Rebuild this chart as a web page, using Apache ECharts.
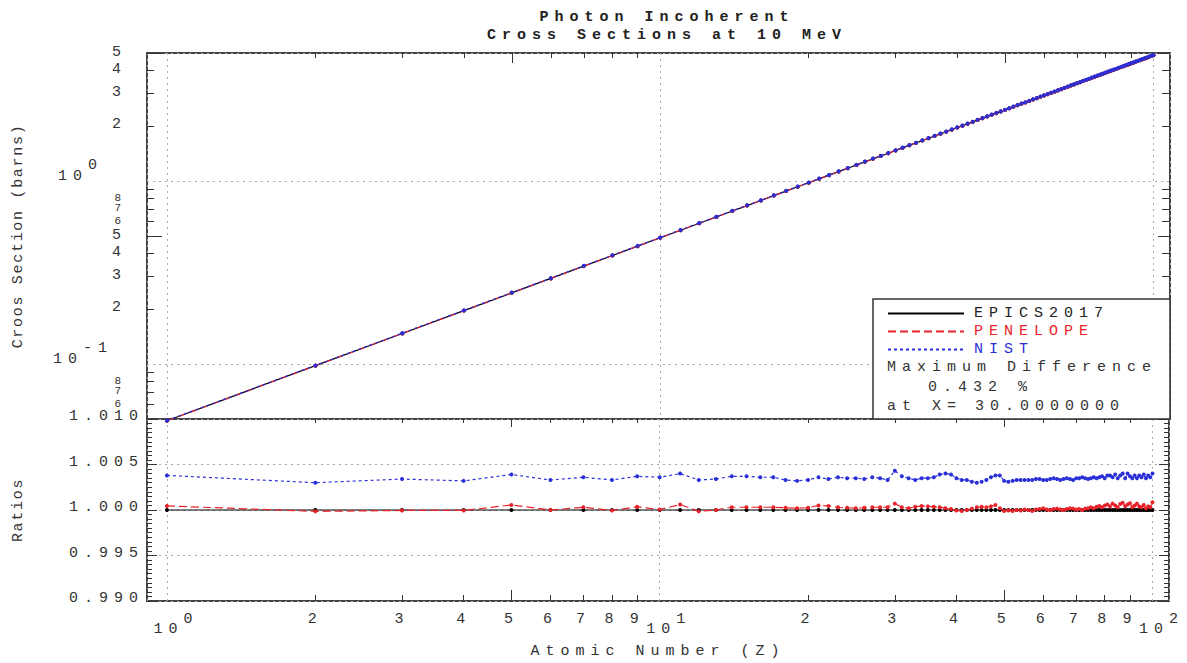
<!DOCTYPE html>
<html>
<head>
<meta charset="utf-8">
<script src="https://cdn.jsdelivr.net/npm/echarts@6/dist/echarts.min.js"></script>
<style>
html, body { margin: 0; padding: 0; background: #fff; }
#chart { width: 1187px; height: 663px; }
#chart svg text { letter-spacing: 6px; }
#chart svg text[transform^="matrix(0,-1"] { letter-spacing: 1.7px; }
</style>
</head>
<body>
<div id="chart"></div>
<script>
// ---------------- data ----------------
const Z = [1,2,3,4,5,6,7,8,9,10,11,12,13,14,15,16,17,18,19,20,
  21,22,23,24,25,26,27,28,29,30,31,32,33,34,35,36,37,38,39,40,
  41,42,43,44,45,46,47,48,49,50,51,52,53,54,55,56,57,58,59,60,
  61,62,63,64,65,66,67,68,69,70,71,72,73,74,75,76,77,78,79,80,
  81,82,83,84,85,86,87,88,89,90,91,92,93,94,95,96,97,98,99,100];

// EPICS2017 incoherent cross section (barns)
const epicsXS = [0.0489,0.0978,0.1467,0.1955,0.2444,0.2933,0.3422,0.3911,0.4400,0.4889,
  0.5377,0.5866,0.6355,0.6844,0.7332,0.7821,0.8310,0.8799,0.9287,0.9776,
  1.026,1.075,1.124,1.173,1.222,1.271,1.320,1.368,1.417,1.466,
  1.515,1.564,1.613,1.662,1.710,1.759,1.808,1.857,1.906,1.955,
  2.003,2.052,2.101,2.150,2.198,2.247,2.296,2.345,2.393,2.442,
  2.491,2.539,2.588,2.637,2.685,2.734,2.783,2.831,2.880,2.928,
  2.977,3.026,3.074,3.123,3.171,3.220,3.268,3.317,3.365,3.414,
  3.462,3.511,3.559,3.607,3.656,3.704,3.753,3.801,3.849,3.897,
  3.946,3.994,4.042,4.090,4.138,4.186,4.235,4.283,4.331,4.379,
  4.427,4.475,4.523,4.571,4.619,4.667,4.715,4.763,4.811,4.859];

// PENELOPE / EPICS2017
const penelopeRatio = [1.00045,0.99985,0.99995,0.99995,1.00055,1.0000,1.0003,0.99995,1.00035,1.00005,
  1.0006,0.99985,1.0000,1.0003,1.0003,1.0003,1.0003,1.00025,1.0002,1.00025,
  1.0005,1.00045,1.0003,1.00025,1.0002,1.00025,1.0003,1.0003,1.0003,1.0007,
  1.0003,1.0002,1.00035,1.00045,1.0004,1.00035,1.0003,1.0002,1.0001,0.99995,
  0.9999,1.0000,1.00015,1.0003,1.00035,1.0003,1.0004,1.00055,1.0002,0.9999,
  0.99995,0.9999,1.0000,0.99995,1.00005,1.0000,0.9999,1.00005,1.0001,1.0002,
  1.00005,1.0000,1.0001,1.00015,1.00005,1.0000,1.0001,1.0002,1.00015,1.00005,
  1.0001,1.0000,1.00015,1.0002,1.0003,1.0002,1.00035,1.00045,1.0003,1.0005,
  1.0006,1.0004,1.0007,1.0005,1.0003,1.00065,1.0008,1.0004,1.0006,1.00075,
  1.0003,1.0005,1.0007,1.0004,1.0003,1.00055,1.0002,1.0004,1.0003,1.00085];

// NIST / EPICS2017
const nistRatio = [1.0038,1.0030,1.0034,1.0032,1.0039,1.0033,1.0036,1.0033,1.0037,1.0036,
  1.0040,1.0033,1.0034,1.0037,1.0037,1.0036,1.0036,1.0033,1.0032,1.0033,
  1.0036,1.0034,1.0036,1.0035,1.0035,1.0034,1.0036,1.0035,1.0033,1.00432,
  1.0037,1.0035,1.0033,1.0035,1.0035,1.0036,1.0039,1.0040,1.0039,1.0035,
  1.0033,1.0033,1.0031,1.0030,1.0031,1.0033,1.0036,1.0038,1.0038,1.0032,
  1.0031,1.0032,1.0033,1.0033,1.0033,1.0033,1.0033,1.0034,1.0034,1.0033,
  1.0033,1.0034,1.0035,1.0034,1.0033,1.0034,1.0035,1.0034,1.0033,1.0035,
  1.0035,1.0036,1.0035,1.0034,1.0035,1.0036,1.0035,1.0036,1.0037,1.0035,
  1.0038,1.0038,1.0036,1.0039,1.0035,1.0038,1.0040,1.0035,1.0040,1.0037,
  1.0035,1.0038,1.0035,1.0038,1.0036,1.0039,1.0035,1.0038,1.0036,1.0040];

// tick / label values
const xDigitLabels = [2,3,4,5,6,7,8,9,20,30,40,50,60,70,80,90];
const xDecadeLabels = [1,10,100];
const xMinorTicks = [2,3,4,6,7,8,9,20,30,40,60,70,80,90];
const xMidTicks = [5,50];
const yLabelsA = [0.06,0.2,0.3,0.4,0.6,0.8,2,3,5];
const yLabelsB = [0.07,0.5,0.7,4];
const yLabelsC = [0.08,0.1,1];
const yTopMinorTicks = [0.06,0.07,0.08,0.09,0.2,0.3,0.4,0.6,0.7,0.8,0.9,2,3,4];
const yTopMidTicks = [0.5,5];
const legendNotes = ['Maximum Difference', '0.432 %', 'at X=', '30.0000000'];

// ---------------- setup ----------------
const FONT = 'Liberation Mono';
const FS = 15;
const LS = 6;           // letter spacing in px (matches CSS)
const TXT = '#333';
const AX = '#333';
const GRID = '#a8a8a8';
const C_EPICS = '#000000', C_PEN = '#e8232a', C_NIST = '#2a2fd8';

if (echarts.setPlatformAPI) {
  const mctx = document.createElement('canvas').getContext('2d');
  echarts.setPlatformAPI({
    measureText: function (text, font) {
      text = text == null ? '' : String(text);
      mctx.font = font || '12px sans-serif';
      const m = mctx.measureText(text);
      return {
        width: m.width + LS * text.length,
        actualBoundingBoxAscent: m.actualBoundingBoxAscent,
        actualBoundingBoxDescent: m.actualBoundingBoxDescent,
        actualBoundingBoxLeft: m.actualBoundingBoxLeft,
        actualBoundingBoxRight: m.actualBoundingBoxRight + LS * text.length
      };
    }
  });
}

function rs(extra) {
  return Object.assign({ fontFamily: FONT, fontSize: FS, color: TXT }, extra || {});
}
function decadeExp(v) {
  const e = Math.round(Math.log10(v));
  const p = Math.pow(10, e);
  return Math.abs(v - p) < 1e-6 * p ? e : null;
}
function mant(v) {
  const e = Math.floor(Math.log10(v) + 1e-9);
  return Math.round(v / Math.pow(10, e));
}

const X_MIN = 0.911, X_MAX = 108;
const xLog = { type: 'log', logBase: 10, min: X_MIN, max: X_MAX };
const yTopLog = { type: 'log', logBase: 10, min: 0.05, max: 5 };
const yRatio = { type: 'value', min: 0.990, max: 1.010, interval: 0.005 };
const gridLine = { show: true, lineStyle: { color: GRID, type: [2, 4], width: 1 } };

function tickAxis(gridIndex, position, base, values, len) {
  return Object.assign({}, base, {
    gridIndex: gridIndex, position: position, show: true,
    axisLine: { show: false, onZero: false },
    axisLabel: { show: false },
    splitLine: { show: false },
    axisTick: { show: true, inside: true, length: len, customValues: values, lineStyle: { color: AX, width: 1 } }
  });
}
function gridAxis(gridIndex, position, base) {
  return Object.assign({}, base, {
    gridIndex: gridIndex, position: position, show: true,
    axisLine: { show: false, onZero: false },
    axisLabel: { show: false },
    axisTick: { show: false },
    splitLine: gridLine
  });
}
function labelAxis(gridIndex, position, base, values, label) {
  return Object.assign({}, base, {
    gridIndex: gridIndex, position: position, show: true,
    axisLine: { show: false, onZero: false },
    axisTick: { show: false },
    splitLine: { show: false },
    axisLabel: Object.assign({ show: true, customValues: values, showMinLabel: true, showMaxLabel: true, hideOverlap: false }, label)
  });
}

// x-axis label formatting (bottom of ratio panel)
const xLabelCfg = {
  margin: 13,
  formatter: function (v) {
    const e = decadeExp(v);
    return e === null ? '{n|' + mant(v) + '}' : '{s|' + e + '}\n{b|10}';
  },
  rich: {
    n: rs({ lineHeight: 10 }),
    s: rs({ lineHeight: 10, padding: [0, 0, 0, 48] }),
    b: rs({ lineHeight: 10, padding: [0, 15, 0, 18] })
  }
};
// y-axis label formatting (cross section panel)
const yLabelCfg = {
  margin: 20, verticalAlign: 'bottom',
  formatter: function (v) {
    const e = decadeExp(v);
    if (e === null) {
      const m = mant(v);
      return (m >= 6 ? '{m|' : '{n|') + m + '}';
    }
    if (e === 0) return '{s0|0}\n{b0|10}';
    return '{s1|' + e + '}\n{b1|10}';
  },
  rich: {
    n: rs({ lineHeight: 2 }),
    m: rs({ lineHeight: 2, fontSize: 11 }),
    s0: rs({ lineHeight: 14, padding: [0, 24, 0, 0] }),
    b0: rs({ lineHeight: 8, padding: [0, 39, 0, 0] }),
    s1: rs({ lineHeight: 14, padding: [0, 14, 0, 0] }),
    b1: rs({ lineHeight: 8, padding: [0, 44, 0, 0] })
  }
};

const epicsTop = Z.map((z, i) => [z, epicsXS[i]]);
const penTop = Z.map((z, i) => [z, epicsXS[i] * penelopeRatio[i]]);
const nistTop = Z.map((z, i) => [z, epicsXS[i] * nistRatio[i]]);
const epicsRat = Z.map((z, i) => [z, epicsXS[i] / epicsXS[i]]);
const penRat = Z.map((z, i) => [z, penelopeRatio[i]]);
const nistRat = Z.map((z, i) => [z, nistRatio[i]]);

function lineSeries(name, data, xi, yi, color, dash, z) {
  return {
    name: name, type: 'line', xAxisIndex: xi, yAxisIndex: yi, data: data,
    symbol: 'circle', symbolSize: 4, showSymbol: true, clip: false, z: z,
    lineStyle: { color: color, width: 1.2, type: dash },
    itemStyle: { color: color },
    emphasis: { disabled: true }
  };
}

const chart = echarts.init(document.getElementById('chart'), null, { renderer: 'svg', width: 1187, height: 663 });

const option = {
  animation: false,
  backgroundColor: '#fff',
  title: {
    text: 'Photon Incoherent\nCross Sections at 10 MeV',
    left: 662, top: 3, textAlign: 'center',
    textStyle: { fontFamily: FONT, fontSize: FS, fontWeight: 'bold', lineHeight: 18, color: '#222' }
  },
  grid: [
    { left: 147, right: 17, top: 53, height: 366, show: true, borderColor: '#444', borderWidth: 2, backgroundColor: 'transparent' },
    { left: 147, right: 17, top: 419, height: 184.5, show: true, borderColor: '#444', borderWidth: 2, backgroundColor: 'transparent' }
  ],
  xAxis: [
    tickAxis(0, 'top', xLog, xMinorTicks, 5),                       // 0
    tickAxis(0, 'top', xLog, xMidTicks, 10),                        // 1
    Object.assign({}, xLog, {                                       // 2 (ratio panel, digits)
      gridIndex: 1, position: 'bottom',
      name: 'Atomic Number (Z)', nameLocation: 'middle', nameGap: 40,
      nameTextStyle: rs(),
      axisLine: { show: false, onZero: false },
      axisTick: { show: true, inside: true, length: 6, customValues: xMinorTicks, lineStyle: { color: AX } },
      splitLine: { show: false },
      axisLabel: Object.assign({ show: true, customValues: xDigitLabels, showMinLabel: true, showMaxLabel: true, hideOverlap: false }, xLabelCfg)
    }),
    tickAxis(1, 'bottom', xLog, xMidTicks, 11),                     // 3
    tickAxis(1, 'top', xLog, xMinorTicks, 4),                       // 4
    tickAxis(1, 'top', xLog, xMidTicks, 8),                         // 5
    gridAxis(0, 'top', xLog),                                       // 6
    gridAxis(1, 'bottom', xLog),                                    // 7
    labelAxis(1, 'bottom', xLog, xDecadeLabels, xLabelCfg)          // 8
  ],
  yAxis: [
    Object.assign({}, yTopLog, {                                    // 0
      gridIndex: 0, position: 'left',
      name: 'Croos Section (barns)', nameLocation: 'middle', nameGap: 118, nameRotate: 90,
      nameTextStyle: rs(),
      axisLine: { show: false },
      axisTick: { show: true, inside: true, length: 7, customValues: yTopMinorTicks, lineStyle: { color: AX } },
      splitLine: { show: false },
      axisLabel: Object.assign({ show: true, customValues: yLabelsA, showMinLabel: true, showMaxLabel: true, hideOverlap: false }, yLabelCfg)
    }),
    tickAxis(0, 'left', yTopLog, yTopMidTicks, 15),                 // 1
    tickAxis(0, 'right', yTopLog, yTopMinorTicks, 8),               // 2
    tickAxis(0, 'right', yTopLog, yTopMidTicks, 12),                // 3
    Object.assign({}, yRatio, {                                     // 4
      gridIndex: 1, position: 'left',
      name: 'Ratios', nameLocation: 'middle', nameGap: 118, nameRotate: 90,
      nameTextStyle: rs(),
      axisLine: { show: false },
      axisTick: { show: true, inside: true, length: 10, lineStyle: { color: AX } },
      minorTick: { show: true, splitNumber: 10, length: 5, lineStyle: { color: AX } },
      splitLine: gridLine,
      axisLabel: {
        show: true, margin: 3, verticalAlign: 'bottom', lineHeight: 5,
        fontFamily: FONT, fontSize: FS, color: TXT,
        formatter: function (v) { return v.toFixed(3); }
      }
    }),
    Object.assign({}, yRatio, {                                     // 5
      gridIndex: 1, position: 'right',
      axisLine: { show: false }, axisLabel: { show: false }, splitLine: { show: false },
      axisTick: { show: true, inside: true, length: 10, lineStyle: { color: AX } },
      minorTick: { show: true, splitNumber: 10, length: 5, lineStyle: { color: AX } }
    }),
    gridAxis(0, 'left', yTopLog),                                   // 6
    labelAxis(0, 'left', yTopLog, yLabelsB, yLabelCfg),             // 7
    labelAxis(0, 'left', yTopLog, yLabelsC, yLabelCfg)              // 8
  ],
  legend: {
    orient: 'vertical', left: 887, top: 303, padding: 0,
    itemWidth: 76, itemHeight: 14, itemGap: -3,
    selectedMode: false,
    itemStyle: { opacity: 0 },
    textStyle: { fontFamily: FONT, fontSize: FS, padding: [0, 0, 0, 5] },
    data: [
      { name: 'EPICS2017', textStyle: { color: '#222' } },
      { name: 'PENELOPE', textStyle: { color: C_PEN } },
      { name: 'NIST', textStyle: { color: C_NIST } }
    ],
    z: 6
  },
  graphic: [
    { type: 'rect', z: 3, shape: { x: 873, y: 299, width: 297, height: 120 },
      style: { fill: '#fff', stroke: '#333', lineWidth: 1.5 } },
    { type: 'text', z: 7, x: 887, y: 367, style: { text: legendNotes[0], font: FS + 'px ' + FONT, fill: TXT, verticalAlign: 'middle' } },
    { type: 'text', z: 7, x: 928, y: 387, style: { text: legendNotes[1], font: FS + 'px ' + FONT, fill: TXT, verticalAlign: 'middle' } },
    { type: 'text', z: 7, x: 887, y: 406, style: { text: legendNotes[2], font: FS + 'px ' + FONT, fill: TXT, verticalAlign: 'middle' } },
    { type: 'text', z: 7, x: 975, y: 406, style: { text: legendNotes[3], font: FS + 'px ' + FONT, fill: TXT, verticalAlign: 'middle' } }
  ],
  series: [
    lineSeries('EPICS2017', epicsTop, 0, 0, C_EPICS, 'solid', 2),
    lineSeries('PENELOPE', penTop, 0, 0, C_PEN, [8, 4], 3),
    lineSeries('NIST', nistTop, 0, 0, C_NIST, [3, 3], 4),
    lineSeries('EPICS2017', epicsRat, 2, 4, C_EPICS, 'solid', 2),
    lineSeries('PENELOPE', penRat, 2, 4, C_PEN, [8, 4], 3),
    lineSeries('NIST', nistRat, 2, 4, C_NIST, [3, 3], 4)
  ]
};

chart.setOption(option);
</script>
</body>
</html>
